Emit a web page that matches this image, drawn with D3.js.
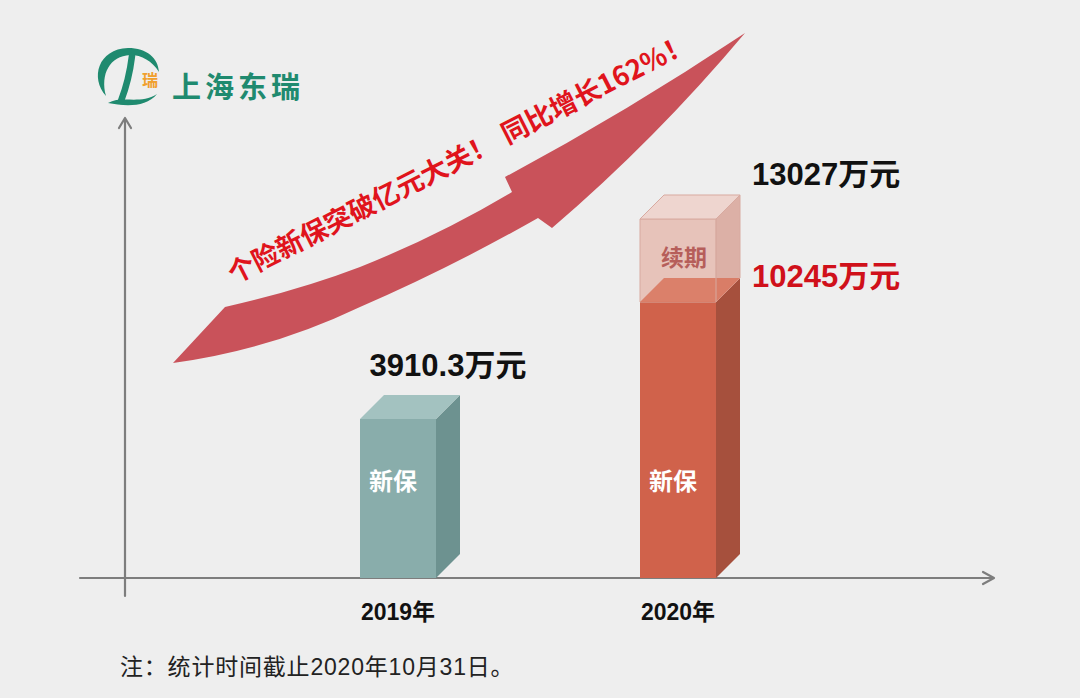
<!DOCTYPE html>
<html>
<head>
<meta charset="utf-8">
<script src="https://cdn.jsdelivr.net/npm/d3@7/dist/d3.min.js"></script>
<style>
  html, body { margin: 0; padding: 0; background: #eeeeee; }
  svg { display: block; }
</style>
</head>
<body>
<svg id="chart" width="1080" height="698"></svg>
<script>
// ---------------- data ----------------
const categories = ["2019年", "2020年"];
const segmentNames = ["新保", "续期"];
const newPolicy = [3910.3, 10245];      // 新保 (万元)
const renewal = [0, 2782];              // 续期 (万元) = 13027 - 10245
const totals = [3910.3, 13027];         // 合计 (万元)
const unit = "万元";
// the picture is a pictograph, not drawn to one linear scale:
// it uses a broken (piecewise) value axis with these stops
const valueStops = [0, 4000, 10000, 14000];
const headline = ["个险新保突破亿元大关！", "同比增长162%！"];
const brandName = "上海东瑞";
const footnote = "注：统计时间截止2020年10月31日。";

// ---------------- layout ----------------
const W = 1080, H = 698;
const baseY = 578;
const svg = d3.select("#chart");
svg.append("rect").attr("width", W).attr("height", H).attr("fill", "#eeeeee");

const x = d3.scalePoint().domain(categories).range([398, 678]);
const y = d3.scaleLinear().domain(valueStops).range([578, 415.35, 309.31, 189.97]);
const barW = 76, depth = 24;

const latin = "'Liberation Sans', Arial, 'Noto Sans CJK SC', sans-serif";
const cjk = "'Noto Sans CJK SC', 'Noto Sans', sans-serif";

// ---------------- big curved arrow ----------------
svg.append("path")
  .attr("d", "M173,363 L225,307 Q300,290 360,267 Q440,235 512,192 L505,177 Q625,113 745,33 " +
             "Q655,140 552,228 L538,218 Q450,268 360,307 Q270,350 173,363 Z")
  .attr("fill", "#c9525a");

const ht = svg.append("text")
  .attr("transform", "translate(234,284) rotate(-27)")
  .attr("font-family", cjk).attr("font-weight", 700).attr("font-size", 27)
  .attr("fill", "#e0141c");
ht.append("tspan").text(headline[0]);
ht.append("tspan").attr("dx", 10).text(headline[1]);

// ---------------- axes ----------------
const axisCol = "#7d7d7d";
const ax = svg.append("g").attr("stroke", axisCol).attr("fill", "none").attr("stroke-width", 2.2)
  .attr("stroke-linecap", "round").attr("stroke-linejoin", "round");
ax.append("line").attr("x1", 125).attr("y1", 596).attr("x2", 125).attr("y2", 119);
ax.append("path").attr("d", "M119,128 L125,118 L131,128");
ax.append("line").attr("x1", 80).attr("y1", baseY).attr("x2", 993).attr("y2", baseY);
ax.append("path").attr("d", "M983,572 L994,578 L983,584");

// ---------------- 3D bars ----------------
function faces(x0, yTop, yBot) {
  const d = depth;
  return {
    side: `M${x0 + barW},${yTop} L${x0 + barW + d},${yTop - d} L${x0 + barW + d},${yBot - d} L${x0 + barW},${yBot} Z`,
    front: `M${x0},${yTop} L${x0 + barW},${yTop} L${x0 + barW},${yBot} L${x0},${yBot} Z`,
    top: `M${x0},${yTop} L${x0 + d},${yTop - d} L${x0 + barW + d},${yTop - d} L${x0 + barW},${yTop} Z`
  };
}

const palNew = [
  { front: "#89adab", top: "#a3c2c0", side: "#6d9290" },
  { front: "#d0624b", top: "#d8745c", side: "#a6503d" }
];
const palRenew = { front: "#e7c3ba", top: "#eed5cf", side: "#dcb0a6", edge: "#d8aaa0" };

const bars = svg.append("g");
categories.forEach((cat, i) => {
  const x0 = x(cat) - barW / 2;
  const f = faces(x0, y(newPolicy[i]), baseY);
  bars.append("path").attr("d", f.side).attr("fill", palNew[i].side);
  bars.append("path").attr("d", f.front).attr("fill", palNew[i].front);
  if (renewal[i] > 0) {
    const r = faces(x0, y(newPolicy[i] + renewal[i]), y(newPolicy[i]));
    const rg = bars.append("g");
    rg.append("path").attr("d", r.side).attr("fill", palRenew.side).attr("stroke", palRenew.edge);
    rg.append("path").attr("d", r.front).attr("fill", palRenew.front).attr("stroke", palRenew.edge);
    rg.append("path").attr("d", r.top).attr("fill", palRenew.top).attr("stroke", palRenew.edge);
    // top of the 新保 block seen through the translucent 续期 block
    bars.append("path").attr("d", f.top).attr("fill", palNew[i].top).attr("opacity", 0.85);
    bars.append("path").attr("d", `M${x0 + barW},${y(newPolicy[i] + renewal[i])} L${x0 + barW},${y(newPolicy[i])}`)
      .attr("stroke", palRenew.edge).attr("stroke-width", 1);
    svg.append("text")
      .attr("x", x(cat) + 6).attr("y", (y(newPolicy[i] + renewal[i]) + y(newPolicy[i])) / 2 + 6)
      .attr("text-anchor", "middle")
      .attr("font-family", cjk).attr("font-weight", 700).attr("font-size", 23)
      .attr("fill", "#b65e5a").text(segmentNames[1]);
  } else {
    bars.append("path").attr("d", f.top).attr("fill", palNew[i].top);
  }
  svg.append("text")
    .attr("x", x(cat) - 5).attr("y", 490)
    .attr("text-anchor", "middle")
    .attr("font-family", cjk).attr("font-weight", 700).attr("font-size", 24)
    .attr("fill", "#ffffff").text(segmentNames[0]);
  // category labels
  svg.append("text")
    .attr("x", x(cat)).attr("y", 620)
    .attr("text-anchor", "middle")
    .attr("font-family", latin).attr("font-weight", 700).attr("font-size", 23)
    .attr("fill", "#111").text(cat);
});

// value labels
const fmt = v => `${v}${unit}`;
// 2019: centered above the bar
svg.append("text")
  .attr("x", x(categories[0]) + 50).attr("y", y(totals[0]) - 43)
  .attr("text-anchor", "middle")
  .attr("font-family", latin).attr("font-weight", 700).attr("font-size", 31)
  .attr("fill", "#111").text(fmt(totals[0]));
// 2020: to the right of the bar
const x2 = x(categories[1]) + barW / 2 + depth + 12;
svg.append("text")
  .attr("x", x2).attr("y", y(totals[1]) - 34)
  .attr("font-family", latin).attr("font-weight", 700).attr("font-size", 31)
  .attr("fill", "#111").text(fmt(totals[1]));
svg.append("text")
  .attr("x", x2).attr("y", y(newPolicy[1]) - 15)
  .attr("font-family", latin).attr("font-weight", 700).attr("font-size", 31)
  .attr("fill", "#d0101a").text(fmt(newPolicy[1]));

// ---------------- logo ----------------
const logo = svg.append("g");
const green = "#1f8a6f";
logo.append("path")
  .attr("d", "M106,96 C90,78 98,49 128,48 C147,48 158,58 159,72 C152,61 142,55 130,55 C110,56 100,74 106,96 Z")
  .attr("fill", green);
logo.append("path")
  .attr("d", "M132,56 C130,72 126,88 121,101")
  .attr("stroke", green).attr("stroke-width", 6.5).attr("stroke-linecap", "round").attr("fill", "none");
logo.append("path")
  .attr("d", "M108,103 C122,95 140,105 157,94 C146,108 124,106 108,103 Z")
  .attr("fill", green);
logo.append("text")
  .attr("x", 150).attr("y", 86).attr("text-anchor", "middle")
  .attr("font-family", cjk).attr("font-weight", 700).attr("font-size", 16)
  .attr("fill", "#f0a02e").text("瑞");
logo.append("text")
  .attr("x", 172).attr("y", 98)
  .attr("font-family", cjk).attr("font-weight", 700).attr("font-size", 29)
  .attr("letter-spacing", 4)
  .attr("fill", green).text(brandName);

// ---------------- footnote ----------------
svg.append("text")
  .attr("x", 120).attr("y", 675)
  .attr("font-family", latin).attr("font-size", 23).attr("letter-spacing", 0.8)
  .attr("fill", "#222").text(footnote);
</script>
</body>
</html>
